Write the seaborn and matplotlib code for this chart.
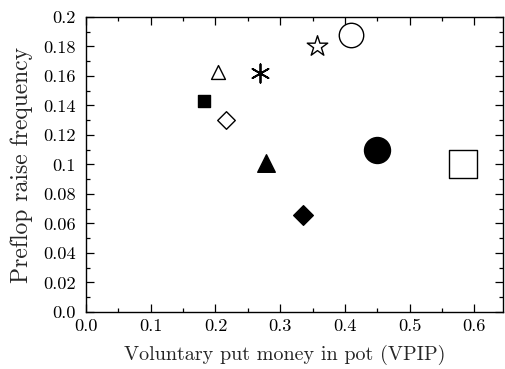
import matplotlib
matplotlib.use("Agg")
import matplotlib.pyplot as plt
import seaborn as sns
import pandas as pd
from matplotlib.ticker import MultipleLocator, FuncFormatter

vpip = [0.410, 0.357, 0.204, 0.269, 0.182, 0.216, 0.278, 0.335, 0.450, 0.583]
pfr = [0.188, 0.180, 0.163, 0.162, 0.143, 0.130, 0.101, 0.066, 0.110, 0.100]
players = ["A", "B", "C", "D", "E", "F", "G", "H", "I", "J"]

# styling per point
markers = ["o", "*", "^", (6, 2, 0), "s", "D", "^", "D", "o", "s"]
filled = [False, False, False, True, True, False, True, True, True, False]
sizes = [310, 240, 100, 175, 80, 80, 160, 100, 350, 400]

df = pd.DataFrame({"vpip": vpip, "pfr": pfr, "player": players})

sns.set_theme(style="white")
plt.rcParams["font.family"] = ["cmr10", "DejaVu Serif"]
plt.rcParams["mathtext.fontset"] = "cm"
plt.rcParams["axes.formatter.use_mathtext"] = True

fig = plt.figure(figsize=(5.05, 3.69), dpi=100)
ax = fig.add_axes([0.1703, 0.1545, 0.8267, 0.7995])

for i in range(len(df)):
    sub = df.iloc[[i]]
    is_ast = markers[i] == (6, 2, 0)
    sns.scatterplot(data=sub, x="vpip", y="pfr", ax=ax,
                    marker=markers[i], s=sizes[i],
                    facecolor="black" if filled[i] else "white",
                    edgecolor="black", linewidth=1.3 if is_ast else 1.0,
                    color="black", legend=False, zorder=3)

ax.set_xlim(0, 0.645)
ax.set_ylim(0, 0.2)
ax.xaxis.set_major_locator(MultipleLocator(0.1))
ax.xaxis.set_minor_locator(MultipleLocator(0.05))
ax.yaxis.set_major_locator(MultipleLocator(0.02))
ax.yaxis.set_minor_locator(MultipleLocator(0.01))

def fmt(v, pos):
    s = f"{v:.2f}".rstrip("0")
    if s.endswith("."):
        s += "0"
    return s

ax.xaxis.set_major_formatter(FuncFormatter(lambda v, p: f"{v:.1f}"))
ax.yaxis.set_major_formatter(FuncFormatter(fmt))

ax.tick_params(which="both", direction="in", top=True, right=True,
               bottom=True, left=True, colors="black", labelsize=13.2)
ax.tick_params(which="major", length=6, width=0.9)
ax.tick_params(which="minor", length=3, width=0.9)
ax.tick_params(axis="y", which="major", pad=7.5)
ax.tick_params(axis="x", which="major", pad=5)
for sp in ax.spines.values():
    sp.set_color("black")
    sp.set_linewidth(1.0)

ax.set_xlabel("Voluntary put money in pot (VPIP)", fontsize=14.5, labelpad=8)
ax.xaxis.label.set_x(0.475)
ax.set_ylabel("Preflop raise frequency", fontsize=17, labelpad=7)

fig.savefig("out.png", dpi=100)
